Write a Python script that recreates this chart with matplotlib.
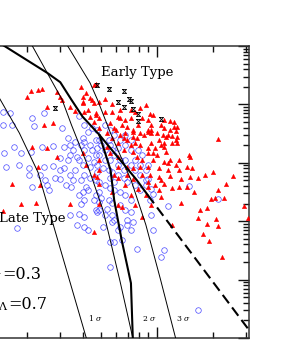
import numpy as np
import matplotlib
matplotlib.use('Agg')
import matplotlib.pyplot as plt

plt.rcParams['font.family'] = 'DejaVu Serif'
plt.rcParams['mathtext.fontset'] = 'dejavuserif'

# all values are log10(x), log10(y)
late_type = [
    (0.17, 2.87), (0.21, 2.85), (0.17, 2.65), (0.22, 2.65), (0.33, 2.77), (0.39, 2.85), (0.34, 2.63),
    (0.49, 2.60), (0.58, 2.80), (0.18, 2.17), (0.23, 2.27), (0.27, 2.17), (0.32, 2.19), (0.38, 2.27),
    (0.44, 2.29), (0.50, 2.27), (0.53, 2.31), (0.56, 2.36), (0.19, 1.93), (0.26, 1.96), (0.31, 1.91),
    (0.39, 1.93), (0.44, 1.95), (0.50, 1.91), (0.53, 2.13), (0.57, 2.10), (0.61, 2.22), (0.64, 1.93),
    (0.60, 2.43), (0.63, 2.53), (0.52, 2.43), (0.69, 2.39), (0.59, 2.31), (0.61, 2.36), (0.64, 2.31),
    (0.67, 2.39), (0.65, 2.22), (0.68, 2.25), (0.70, 2.31), (0.72, 2.22), (0.75, 2.31), (0.74, 2.39),
    (0.76, 2.22), (0.77, 2.13), (0.80, 2.05), (0.79, 2.25), (0.67, 2.13), (0.69, 2.13), (0.72, 2.05),
    (0.75, 2.05), (0.63, 2.08), (0.66, 2.01), (0.68, 1.96), (0.71, 1.91), (0.74, 1.88), (0.76, 1.84),
    (0.79, 1.79), (0.82, 1.74), (0.84, 1.67), (0.61, 1.79), (0.64, 1.74), (0.67, 1.71), (0.69, 1.67),
    (0.72, 1.62), (0.75, 1.57), (0.77, 1.54), (0.80, 1.50), (0.83, 1.45), (0.86, 1.36), (0.63, 1.54),
    (0.67, 1.45), (0.70, 1.40), (0.74, 1.36), (0.76, 1.31), (0.80, 1.28), (0.83, 1.19), (0.86, 1.16),
    (0.84, 1.02), (0.67, 1.19), (0.72, 1.11), (0.77, 1.02), (0.61, 1.36), (0.58, 1.45), (0.59, 1.71),
    (0.56, 1.88), (0.53, 1.79), (0.51, 1.62), (0.48, 1.88), (0.45, 1.74), (0.40, 1.71), (0.37, 1.79),
    (0.80, 2.39), (0.83, 2.31), (0.86, 2.22), (0.83, 2.05), (0.86, 1.96), (0.88, 1.88), (0.91, 1.79),
    (0.88, 1.62), (0.91, 1.54), (0.94, 1.71), (0.75, 2.56), (0.77, 2.48), (0.72, 2.65), (0.68, 2.56),
    (0.65, 2.60), (0.61, 2.65), (0.83, 2.48), (0.86, 2.39), (0.88, 2.05), (0.91, 1.96), (0.94, 1.88),
    (0.79, 1.96), (0.82, 1.88), (0.69, 1.50), (0.66, 1.36), (0.75, 1.74), (0.77, 1.67), (0.68, 1.84),
    (0.60, 1.96), (0.58, 2.05), (0.55, 2.22), (0.52, 2.05), (0.48, 2.08), (0.90, 2.22), (0.92, 2.13),
    (0.95, 1.96), (0.94, 1.62), (0.69, 1.19), (0.31, 1.79), (0.33, 1.59), (0.41, 1.62), (0.42, 1.54),
    (0.48, 1.72), (0.54, 1.59), (0.55, 1.71), (0.60, 1.50), (0.62, 1.59), (0.59, 1.29), (0.58, 1.12),
    (0.53, 1.11), (0.57, 0.94), (0.61, 0.90), (0.63, 0.85), (0.61, 1.07), (0.68, 1.16), (0.69, 1.33),
    (0.73, 1.21), (0.76, 1.11), (0.76, 0.99), (0.80, 0.90), (0.84, 0.94), (0.86, 0.85), (0.87, 0.99),
    (0.79, 0.85), (0.75, 0.64), (0.77, 0.64), (0.89, 0.52), (0.75, 0.22), (0.25, 0.88), (0.71, 0.90),
    (0.81, 0.68), (0.97, 1.11), (1.02, 0.39), (0.95, 1.72), (0.97, 1.55), (0.98, 1.47), (0.96, 1.36),
    (0.98, 0.85), (1.04, 0.51), (1.06, 1.26), (1.33, 1.38), (1.17, 1.60), (1.22, -0.52),
]

early_type = [
    (0.30, 3.13), (0.32, 3.23), (0.36, 3.25), (0.38, 3.26), (0.46, 3.21), (0.48, 3.13), (0.49, 3.08),
    (0.41, 2.96), (0.53, 2.96), (0.56, 2.89), (0.59, 3.30), (0.62, 3.20), (0.64, 3.11), (0.60, 3.13),
    (0.60, 3.02), (0.66, 3.02), (0.63, 2.90), (0.67, 2.82), (0.69, 2.77), (0.72, 2.87), (0.76, 2.87),
    (0.79, 2.79), (0.75, 2.68), (0.77, 2.60), (0.81, 2.65), (0.84, 2.61), (0.87, 2.53), (0.83, 2.51),
    (0.80, 2.48), (0.87, 2.44), (0.91, 2.51), (0.95, 2.56), (0.39, 2.65), (0.44, 2.68), (0.33, 2.27),
    (0.41, 2.25), (0.36, 1.93), (0.46, 2.10), (0.60, 2.17), (0.62, 1.96), (0.69, 2.05), (0.75, 2.17),
    (0.79, 2.34), (0.82, 2.22), (0.87, 2.19), (0.89, 2.10), (0.92, 2.05), (0.95, 2.17), (0.91, 1.93),
    (0.87, 1.91), (0.84, 1.93), (0.79, 1.93), (0.69, 1.88), (0.79, 2.10), (0.73, 2.27),
    (0.66, 3.33), (0.67, 3.35), (0.60, 3.04), (0.65, 3.08), (0.69, 3.04), (0.72, 3.09), (0.76, 3.01),
    (0.80, 2.90), (0.61, 2.87), (0.67, 2.85), (0.80, 2.77), (0.83, 2.73), (0.86, 2.77), (0.96, 2.84),
    (0.98, 2.82), (0.95, 2.73), (1.04, 2.73), (1.09, 2.70), (1.11, 2.61), (0.78, 2.56), (0.87, 2.56),
    (0.95, 2.53), (0.97, 2.51), (1.00, 2.51), (1.03, 2.48), (1.06, 2.48), (1.08, 2.46), (1.11, 2.44),
    (0.93, 2.48), (0.89, 2.43), (0.82, 2.43), (0.76, 2.43), (0.73, 2.51), (0.69, 2.60), (0.66, 2.70),
    (0.64, 2.79), (1.07, 2.72), (1.09, 2.61), (0.97, 2.65), (0.97, 2.56), (1.05, 2.44), (1.04, 2.34),
    (1.08, 2.34), (1.11, 2.34), (1.10, 2.39), (1.01, 2.39), (0.97, 2.34), (0.95, 2.25), (0.98, 2.17),
    (1.00, 2.13), (1.02, 2.31), (1.04, 2.27), (1.05, 2.19), (1.04, 2.01), (1.06, 2.00), (1.07, 2.05),
    (0.98, 2.05), (0.95, 1.93), (1.01, 1.91), (1.06, 1.88), (1.17, 2.13), (1.18, 2.10), (1.16, 1.93),
    (1.19, 1.91), (1.33, 2.41), (1.30, 1.84), (0.96, 1.79), (1.01, 1.76), (1.04, 1.64), (1.07, 1.77),
    (1.13, 1.72), (1.18, 1.76), (1.22, 1.74), (1.26, 1.79), (1.41, 1.77), (1.37, 1.64), (1.33, 1.54),
    (1.20, 1.50), (1.16, 1.59), (1.08, 1.57), (1.12, 1.59), (1.01, 1.54), (0.95, 1.59), (0.95, 1.67),
    (1.13, 1.31), (1.31, 1.40), (1.36, 1.40), (1.29, 1.38), (1.47, 1.26), (1.49, 1.06), (1.27, 1.22),
    (1.23, 1.19), (1.22, 1.06), (1.32, 1.04), (1.27, 0.95), (1.33, 0.92), (1.25, 0.78), (1.28, 0.66),
    (1.35, 0.39), (1.08, 0.94), (0.97, 1.28), (0.22, 1.64), (0.17, 1.18), (0.27, 1.29), (0.35, 1.31),
    (0.53, 1.29), (0.37, 1.62), (0.66, 1.79), (0.68, 1.76), (0.69, 1.64), (0.66, 0.82), (0.69, 1.29),
    (0.79, 1.28), (0.76, 1.50), (0.77, 1.79), (0.79, 1.74), (0.87, 1.72), (0.88, 1.28), (0.92, 1.79),
    (0.90, 1.55), (0.92, 1.07), (0.81, 1.24), (0.86, 2.90), (0.88, 2.87), (0.91, 2.94), (0.94, 2.99),
    (0.92, 2.77), (0.90, 2.65), (1.02, 2.65), (1.04, 2.60), (1.07, 2.56), (1.10, 2.54), (0.91, 2.31),
    (0.88, 2.34), (0.84, 2.39), (0.86, 2.31), (0.99, 2.25), (1.10, 1.96), (1.12, 1.88), (1.02, 1.71),
    (0.99, 1.62), (0.84, 1.79), (0.83, 1.62), (0.94, 1.45), (1.02, 1.41), (0.86, 1.45), (1.12, 2.05),
]

bright_cl = [
    (0.45, 2.94), (0.68, 3.33), (0.74, 3.26), (0.82, 3.23), (0.79, 3.04), (0.86, 3.06), (0.85, 3.09),
    (0.82, 2.96), (0.87, 2.92), (0.90, 2.84), (0.90, 2.72), (1.02, 2.75),
]

# confidence curves and model lines
sig1 = [(0.02, 3.85), (0.156, 3.09), (0.26, 2.51), (0.36, 1.84), (0.49, 0.42), (0.62, -1.0), (0.63, -1.05)]
sig2 = [(0.29, 4.19), (0.33, 4.0), (0.41, 3.54), (0.49, 3.08), (0.54, 2.65), (0.63, 1.93),
        (0.71, 1.19), (0.80, -0.01), (0.87, -1.0), (0.88, -1.12)]
sig3 = [(0.48, 4.19), (0.52, 4.0), (0.64, 3.37), (0.68, 3.08), (0.75, 2.51), (0.86, 1.71),
        (0.94, 0.94), (1.02, -0.01), (1.10, -1.0), (1.11, -1.12)]
model_top = [(0.10, 4.15), (0.18, 4.0), (0.41, 3.54), (0.48, 3.38), (0.54, 3.08), (0.60, 2.79), (0.69, 2.48)]
model_down = [(0.69, 2.48), (0.75, 1.88), (0.77, 1.36), (0.81, 0.68), (0.86, -0.06), (0.87, -1.0), (0.87, -1.05)]
model_diag = [(0.69, 2.48), (0.89, 1.71), (0.95, 1.45)]
model_dash = [(0.95, 1.45), (1.52, -0.97)]

def unlog(pts):
    a = np.array(pts, dtype=float)
    return 10 ** a[:, 0], 10 ** a[:, 1]

fig = plt.figure(figsize=(2.95, 3.44), dpi=100)
ax = fig.add_axes([-0.0983, 0.0174, 0.9425, 0.8488])
ax.set_xscale('log')
ax.set_yscale('log')

x, y = unlog(late_type)
ax.plot(x, y, 'o', ms=4.0, mfc='none', mec='#4848ff', mew=0.5, zorder=2)
x, y = unlog(early_type)
ax.plot(x, y, '^', ms=3.2, mfc='red', mec='red', mew=0.3, zorder=3)
hourglass = [(-1, 1), (1, 1), (-1, -1), (1, -1), (-1, 1)]
x, y = unlog(bright_cl)
ax.plot(x, y, linestyle='none', marker=hourglass, ms=3.0, mfc='none', mec='black', mew=0.6, zorder=4)

for c in (sig1, sig2, sig3):
    x, y = unlog(c)
    ax.plot(x, y, color='black', lw=0.7, zorder=5)
for c in (model_top, model_down, model_diag):
    x, y = unlog(c)
    ax.plot(x, y, color='black', lw=1.5, zorder=5, solid_capstyle='round')
x, y = unlog(model_dash)
ax.plot(x, y, color='black', lw=1.5, ls=(0, (5, 2.5)), zorder=5)

ax.set_xlim(1, 10 ** 1.495)
ax.set_ylim(0.1, 1e4)

ax.text(0.598, 0.911, 'Early Type', transform=ax.transAxes, ha='center', va='center', fontsize=9.5)
ax.text(0.100, 0.411, 'Late Type', transform=ax.transAxes, ha='left', va='center', fontsize=9.5)
ax.text(0.1125, 0.216, '=0.3', transform=ax.transAxes, ha='left', va='center', fontsize=11.5)
ax.text(0.1125, 0.216, r'$\Omega_M$', transform=ax.transAxes, ha='right', va='center', fontsize=11.5)
ax.text(0.134, 0.116, '=0.7', transform=ax.transAxes, ha='left', va='center', fontsize=11.5)
ax.text(0.134, 0.116, r'$\Omega_\Lambda$', transform=ax.transAxes, ha='right', va='center', fontsize=11.5)
for fx, lab in ((0.4215, '1'), (0.6155, '2'), (0.7377, '3')):
    ax.text(fx, 0.068, lab + r' $\sigma$', transform=ax.transAxes, ha='left', va='center', fontsize=5.5)

ax.tick_params(which='both', direction='in', top=True, right=True,
               labelbottom=False, labelleft=False, width=1.0, color='#111111')
ax.tick_params(which='major', length=8)
ax.tick_params(which='minor', length=4.5)
for s in ax.spines.values():
    s.set_linewidth(1.1)
    s.set_color('#333333')

fig.savefig('out.png', dpi=100)
